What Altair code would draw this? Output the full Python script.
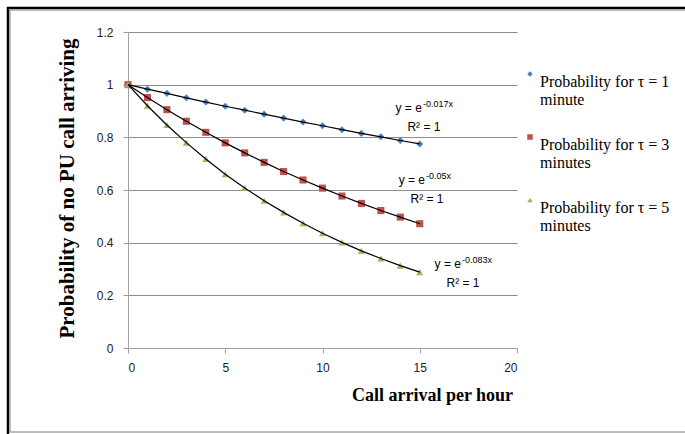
import altair as alt
import pandas as pd

# ---- data ----
calls = list(range(16))
p_tau1 = [1.000, 0.983, 0.967, 0.950, 0.934, 0.918, 0.903, 0.888, 0.873, 0.858,
          0.844, 0.829, 0.815, 0.802, 0.788, 0.775]
p_tau3 = [1.000, 0.951, 0.905, 0.861, 0.819, 0.779, 0.741, 0.705, 0.670, 0.638,
          0.607, 0.577, 0.549, 0.522, 0.497, 0.472]
p_tau5 = [1.000, 0.920, 0.847, 0.780, 0.718, 0.660, 0.608, 0.559, 0.515, 0.474,
          0.436, 0.401, 0.369, 0.340, 0.313, 0.288]
series_names = ["Probability for \u03c4 = 1|minute",
                "Probability for \u03c4 = 3|minutes",
                "Probability for \u03c4 = 5|minutes"]
series_colors = ["#4F81BD", "#C0504D", "#9BBB59"]
series_shapes = ["diamond", "square", "triangle-up"]

eq_base = ["y = e", "y = e", "y = e"]
eq_exp = ["-0.017x", "-0.05x", "-0.083x"]
eq_r2 = ["R\u00b2 = 1", "R\u00b2 = 1", "R\u00b2 = 1"]
eq_x = [15.11, 15.27, 17.12]
eq_y = [0.911, 0.638, 0.319]

x_ticks = [0, 5, 10, 15, 20]
y_ticks = [0, 0.2, 0.4, 0.6, 0.8, 1.0, 1.2]

rows = []
for name, vals in zip(series_names, [p_tau1, p_tau3, p_tau5]):
    for xv, yv in zip(calls, vals):
        rows.append({"x": xv, "p": yv, "series": name})
df = pd.DataFrame(rows)
ann = pd.DataFrame({"x": eq_x, "y": eq_y, "base": eq_base, "exp": eq_exp, "r2": eq_r2})

xscale = alt.Scale(domain=[0, 20], nice=False, zero=True)
yscale = alt.Scale(domain=[0, 1.2], nice=False)

xenc = alt.X("x:Q", scale=xscale,
             axis=alt.Axis(values=x_ticks, title="Call arrival per hour", grid=False,
                           domainColor="#a0a0a0", tickColor="#a0a0a0", tickSize=5,
                           labelFont="Liberation Sans", labelFontSize=12, labelColor="#222",
                           labelPadding=9,
                           titleFont="Liberation Serif", titleFontSize=18, titleFontWeight="bold",
                           titleColor="#000", titleX=304, titleY=47, titleAlign="center",
                           titleBaseline="middle"))
yenc = alt.Y("p:Q", scale=yscale,
             axis=alt.Axis(values=y_ticks, format="~g", title="Probability of no PU call arriving",
                           grid=True, gridColor="#8c8c8c", gridWidth=1,
                           domainColor="#a0a0a0", tickColor="#a0a0a0", tickSize=5,
                           labelFont="Liberation Sans", labelFontSize=12, labelColor="#222",
                           labelPadding=10,
                           titleFont="Liberation Serif", titleFontSize=21, titleFontWeight="bold",
                           titleColor="#000", titleX=-61, titleY=156, titleAngle=-90,
                           titleAlign="center", titleBaseline="middle"))

points = alt.Chart(df).mark_point(filled=True, opacity=1, size=50).encode(
    x=xenc, y=yenc,
    color=alt.Color("series:N", scale=alt.Scale(domain=series_names, range=series_colors),
                    legend=alt.Legend(title=None, orient="none", legendX=394, legendY=34,
                                      labelExpr="split(datum.label, '|')",
                                      labelFont="Liberation Serif", labelFontSize=16,
                                      labelColor="#000", labelLimit=300, labelBaseline="top",
                                      labelOffset=2, symbolSize=30, rowPadding=21,
                                      symbolOffset=0)),
    shape=alt.Shape("series:N", scale=alt.Scale(domain=series_names, range=series_shapes)),
)

lines = alt.Chart(df).mark_line(color="black", strokeWidth=1.2).encode(
    x="x:Q", y="p:Q", detail="series:N"
)

base_txt = alt.Chart(ann).mark_text(align="right", baseline="middle", font="Liberation Sans",
                                    fontSize=12, color="#000").encode(
    x="x:Q", y="y:Q", text="base:N")
exp_txt = alt.Chart(ann).mark_text(align="left", baseline="middle", font="Liberation Sans",
                                   fontSize=9, color="#000", dx=1, dy=-4).encode(
    x="x:Q", y="y:Q", text="exp:N")
r2_txt = alt.Chart(ann).mark_text(align="center", baseline="middle", font="Liberation Sans",
                                  fontSize=12, color="#000", dx=2, dy=19).encode(
    x="x:Q", y="y:Q", text="r2:N")

frame_df = pd.DataFrame({"k": [0]})
black_top = alt.Chart(frame_df).mark_rule(color="#000", strokeWidth=2.5).encode(
    x=alt.value(-121), x2=alt.value(557), y=alt.value(-24))
black_left = alt.Chart(frame_df).mark_rule(color="#000", strokeWidth=2.5).encode(
    x=alt.value(-120), y=alt.value(-25), y2=alt.value(402))
gray_top = alt.Chart(frame_df).mark_rule(color="#a6a6a6", strokeWidth=1.5).encode(
    x=alt.value(-118), x2=alt.value(557), y=alt.value(-22))
gray_left = alt.Chart(frame_df).mark_rule(color="#a6a6a6", strokeWidth=1.5).encode(
    x=alt.value(-118), y=alt.value(-22), y2=alt.value(400))
gray_bottom = alt.Chart(frame_df).mark_rule(color="#a6a6a6", strokeWidth=1.5).encode(
    x=alt.value(-118), x2=alt.value(557), y=alt.value(400))

chart = alt.layer(black_top, black_left, gray_top, gray_left, gray_bottom,
                  points, lines, base_txt, exp_txt, r2_txt).properties(
    width=389, height=316,
    padding={"left": 128, "top": 32, "right": 168, "bottom": 86},
    autosize=alt.AutoSizeParams(type="none"),
    background="white",
).configure_view(stroke=None)

chart.save("out.html", embed_options={"renderer": "svg", "actions": False})
